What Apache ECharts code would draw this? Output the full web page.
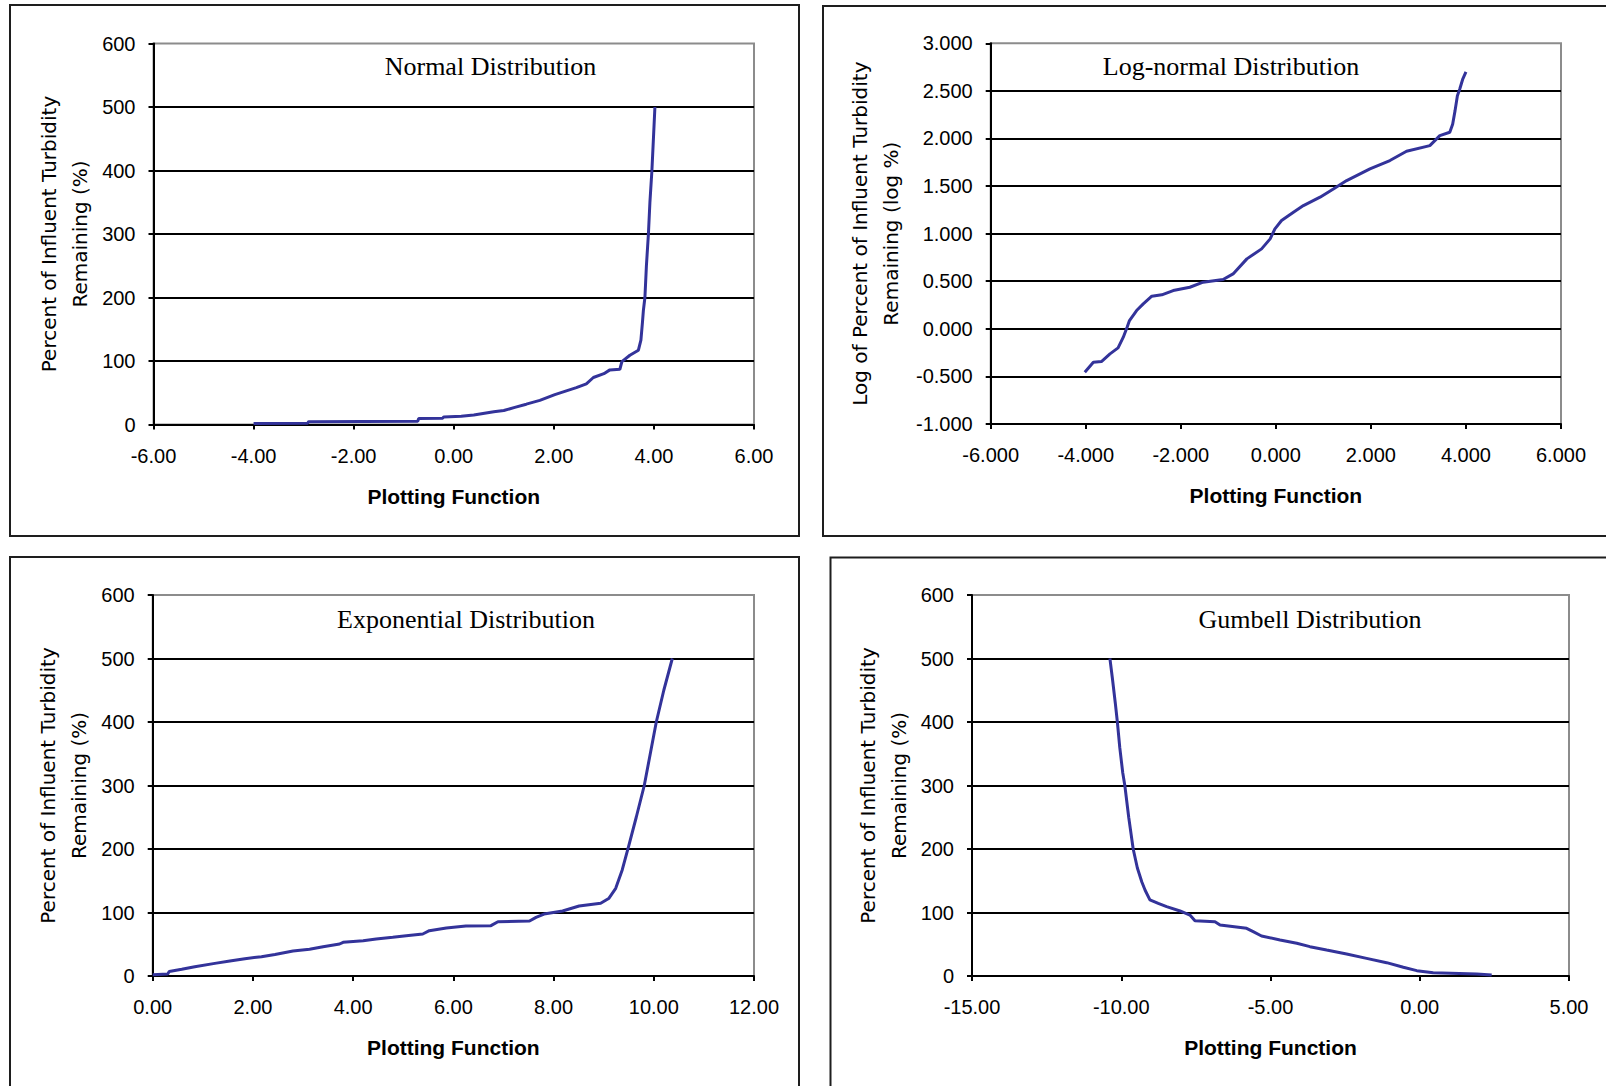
<!DOCTYPE html>
<html>
<head>
<meta charset="utf-8">
<script src="https://cdn.jsdelivr.net/npm/echarts@6/dist/echarts.min.js"></script>
<style>
html,body{margin:0;padding:0;background:#ffffff;}
#c{width:1606px;height:1086px;}
</style>
</head>
<body>
<div id="c"></div>
<script>
// ---------- data ----------
const normalX = [-4.00, -2.92, -2.90, -0.72, -0.70, -0.22, -0.20, 0.15, 0.40, 0.80, 1.00, 1.22, 1.45, 1.72, 2.02, 2.25, 2.45, 2.65, 2.79, 3.00, 3.12, 3.32, 3.36, 3.52, 3.69, 3.74, 3.77, 3.79, 3.82, 3.85, 3.89, 3.92, 3.96, 3.99, 4.02];
const normalY = [1.5, 2, 4.5, 5, 9.5, 10, 12, 13, 15, 20, 22, 27, 32, 38, 47, 53, 58, 64, 74, 80, 86, 87, 99, 109, 117, 133, 160, 180, 200, 250, 300, 350, 400, 450, 500];

const lognormX = [-4.02, -3.84, -3.67, -3.49, -3.32, -3.21, -3.13, -3.08, -2.93, -2.79, -2.61, -2.40, -2.16, -1.81, -1.53, -1.11, -0.90, -0.61, -0.30, -0.12, -0.02, 0.12, 0.37, 0.58, 0.93, 1.21, 1.49, 1.98, 2.40, 2.75, 3.24, 3.45, 3.66, 3.72, 3.77, 3.82, 3.87, 3.93, 4.00];
const lognormY = [-0.456, -0.351, -0.344, -0.263, -0.200, -0.088, 0.017, 0.087, 0.192, 0.262, 0.343, 0.357, 0.402, 0.437, 0.490, 0.518, 0.577, 0.735, 0.840, 0.945, 1.050, 1.138, 1.225, 1.295, 1.383, 1.470, 1.558, 1.680, 1.768, 1.866, 1.925, 2.030, 2.065, 2.150, 2.290, 2.450, 2.520, 2.620, 2.699];

const expoX = [0.00, 0.30, 0.33, 0.58, 0.84, 1.24, 1.54, 1.84, 2.17, 2.44, 2.80, 3.13, 3.40, 3.73, 3.80, 4.20, 4.46, 4.79, 5.06, 5.39, 5.52, 5.86, 6.25, 6.75, 6.89, 7.52, 7.65, 7.81, 8.18, 8.51, 8.94, 9.10, 9.24, 9.37, 9.50, 9.65, 9.81, 9.93, 10.05, 10.20, 10.37];
const expoY = [2, 3, 7, 10.5, 14.7, 19.9, 23.6, 27.3, 30.4, 34, 39.4, 42, 46.2, 50.4, 53, 55.6, 58.3, 60.9, 63.5, 66.2, 71.4, 75.6, 78.7, 79.3, 85.5, 86.6, 92.4, 97.6, 102.4, 110.2, 114.5, 122, 138, 167, 205, 250, 300, 350, 400, 450, 500];

const gumbelX = [-10.38, -10.30, -10.20, -10.13, -10.05, -9.95, -9.88, -9.75, -9.60, -9.46, -9.31, -9.20, -9.04, -8.76, -8.48, -8.03, -7.70, -7.53, -6.86, -6.69, -5.80, -5.58, -5.30, -4.68, -4.12, -3.68, -3.12, -2.45, -1.78, -1.11, -0.55, -0.10, 0.45, 1.91, 2.41];
const gumbelY = [500, 470, 430, 400, 360, 320, 300, 250, 200, 170, 148, 135, 120, 114.4, 109.2, 102.4, 96, 87, 85.5, 80.3, 75.1, 69.8, 63, 56.7, 51.5, 46.2, 40.9, 34.6, 27.8, 21, 13.7, 8.4, 5.2, 3.1, 1.5];

// tick values
const normalXTicks = [-6, -4, -2, 0, 2, 4, 6];
const lognormXTicks = [-6, -4, -2, 0, 2, 4, 6];
const expoXTicks = [0, 2, 4, 6, 8, 10, 12];
const gumbelXTicks = [-15, -10, -5, 0, 5];
const percentYTicks = [0, 100, 200, 300, 400, 500, 600];
const logYTicks = [-1, -0.5, 0, 0.5, 1, 1.5, 2, 2.5, 3];

const titles = ['Normal Distribution', 'Log-normal Distribution', 'Exponential Distribution', 'Gumbell Distribution'];
const xName = 'Plotting Function';
const yNamePct = 'Percent of Influent Turbidity\nRemaining (%)';
const yNameLog = 'Log of Percent of Influent Turbidity\nRemaining (log %)';

// ---------- layout ----------
const grids = [
  {left: 153.5, top: 43.5, width: 600.5, height: 381},
  {left: 990.7, top: 43.3, width: 570.3, height: 380.7},
  {left: 152.7, top: 595, width: 601.3, height: 381},
  {left: 972, top: 595, width: 597, height: 381}
];
const yNameGaps = [58.5, 84, 58, 57.5];
const titlePos = [[490.5, 66], [1231, 66], [466, 619], [1310, 619]];

const zip = (xs, ys) => xs.map((x, i) => [x, ys[i]]);
const seriesData = [zip(normalX, normalY), zip(lognormX, lognormY), zip(expoX, expoY), zip(gumbelX, gumbelY)];
const xTicks = [normalXTicks, lognormXTicks, expoXTicks, gumbelXTicks];
const yTicks = [percentYTicks, logYTicks, percentYTicks, percentYTicks];
const xDec = [2, 3, 2, 2];
const yDec = [0, 3, 0, 0];
const yNames = [yNamePct, yNameLog, yNamePct, yNamePct];

const sans = 'Liberation Sans';
const lineBlue = '#33339a';

function xAxisOf(i) {
  const t = xTicks[i];
  return {
    type: 'value', gridIndex: i,
    min: t[0], max: t[t.length - 1], interval: t[1] - t[0],
    name: xName, nameLocation: 'middle', nameGap: 61,
    nameTextStyle: {fontFamily: sans, fontWeight: 'bold', fontSize: 21, color: '#000'},
    axisLine: {show: true, onZero: false, lineStyle: {color: '#000', width: 2}},
    axisTick: {show: true, inside: false, length: 5, lineStyle: {color: '#000', width: 2}},
    axisLabel: {show: true, margin: 21, fontFamily: sans, fontSize: 20, color: '#000',
      showMinLabel: true, showMaxLabel: true,
      formatter: v => Number(v).toFixed(xDec[i])},
    splitLine: {show: false}
  };
}
function yAxisOf(i) {
  const t = yTicks[i];
  return {
    type: 'value', gridIndex: i,
    min: t[0], max: t[t.length - 1], interval: t[1] - t[0],
    name: yNames[i], nameLocation: 'middle', nameGap: yNameGaps[i], nameRotate: 90,
    nameTextStyle: {fontFamily: 'DejaVu Sans', fontSize: 20, color: '#000', lineHeight: 31},
    axisLine: {show: true, onZero: false, lineStyle: {color: '#000', width: 2}},
    axisTick: {show: true, inside: false, length: 5, lineStyle: {color: '#000', width: 2}},
    axisLabel: {show: true, margin: 18, fontFamily: sans, fontSize: 20, color: '#000',
      showMinLabel: true, showMaxLabel: true,
      formatter: v => Number(v).toFixed(yDec[i])},
    splitLine: {show: true, showMinLine: false, showMaxLine: false, lineStyle: {color: '#000', width: 2}}
  };
}

const borderStyle = {fill: 'none', stroke: '#1e1e1e', lineWidth: 2};
const graphic = [
  {type: 'rect', silent: true, shape: {x: 10, y: 5, width: 789, height: 531}, style: borderStyle},
  {type: 'rect', silent: true, shape: {x: 823, y: 6, width: 820, height: 530}, style: borderStyle},
  {type: 'rect', silent: true, shape: {x: 10, y: 557, width: 789, height: 580}, style: borderStyle},
  {type: 'rect', silent: true, shape: {x: 830.5, y: 557.5, width: 820, height: 580}, style: borderStyle}
];
titles.forEach((t, i) => {
  graphic.push({
    type: 'text', silent: true, x: titlePos[i][0], y: titlePos[i][1],
    style: {text: t, font: '26px "Liberation Serif"', fill: '#000',
      textAlign: 'center', textVerticalAlign: 'middle', align: 'center', verticalAlign: 'middle'}
  });
});

const option = {
  animation: false,
  backgroundColor: '#ffffff',
  grid: grids.map(g => Object.assign({show: true, borderColor: '#8c8c8c', borderWidth: 2,
    backgroundColor: 'transparent', containLabel: false, outerBoundsMode: 'none'}, g)),
  xAxis: [0, 1, 2, 3].map(xAxisOf),
  yAxis: [0, 1, 2, 3].map(yAxisOf),
  series: seriesData.map((d, i) => ({
    type: 'line', xAxisIndex: i, yAxisIndex: i, data: d,
    showSymbol: false, symbol: 'none', smooth: false,
    lineStyle: {color: lineBlue, width: 3},
    itemStyle: {color: lineBlue}
  })),
  graphic: graphic
};

const chart = echarts.init(document.getElementById('c'), null, {renderer: 'svg'});
chart.setOption(option);
</script>
</body>
</html>
